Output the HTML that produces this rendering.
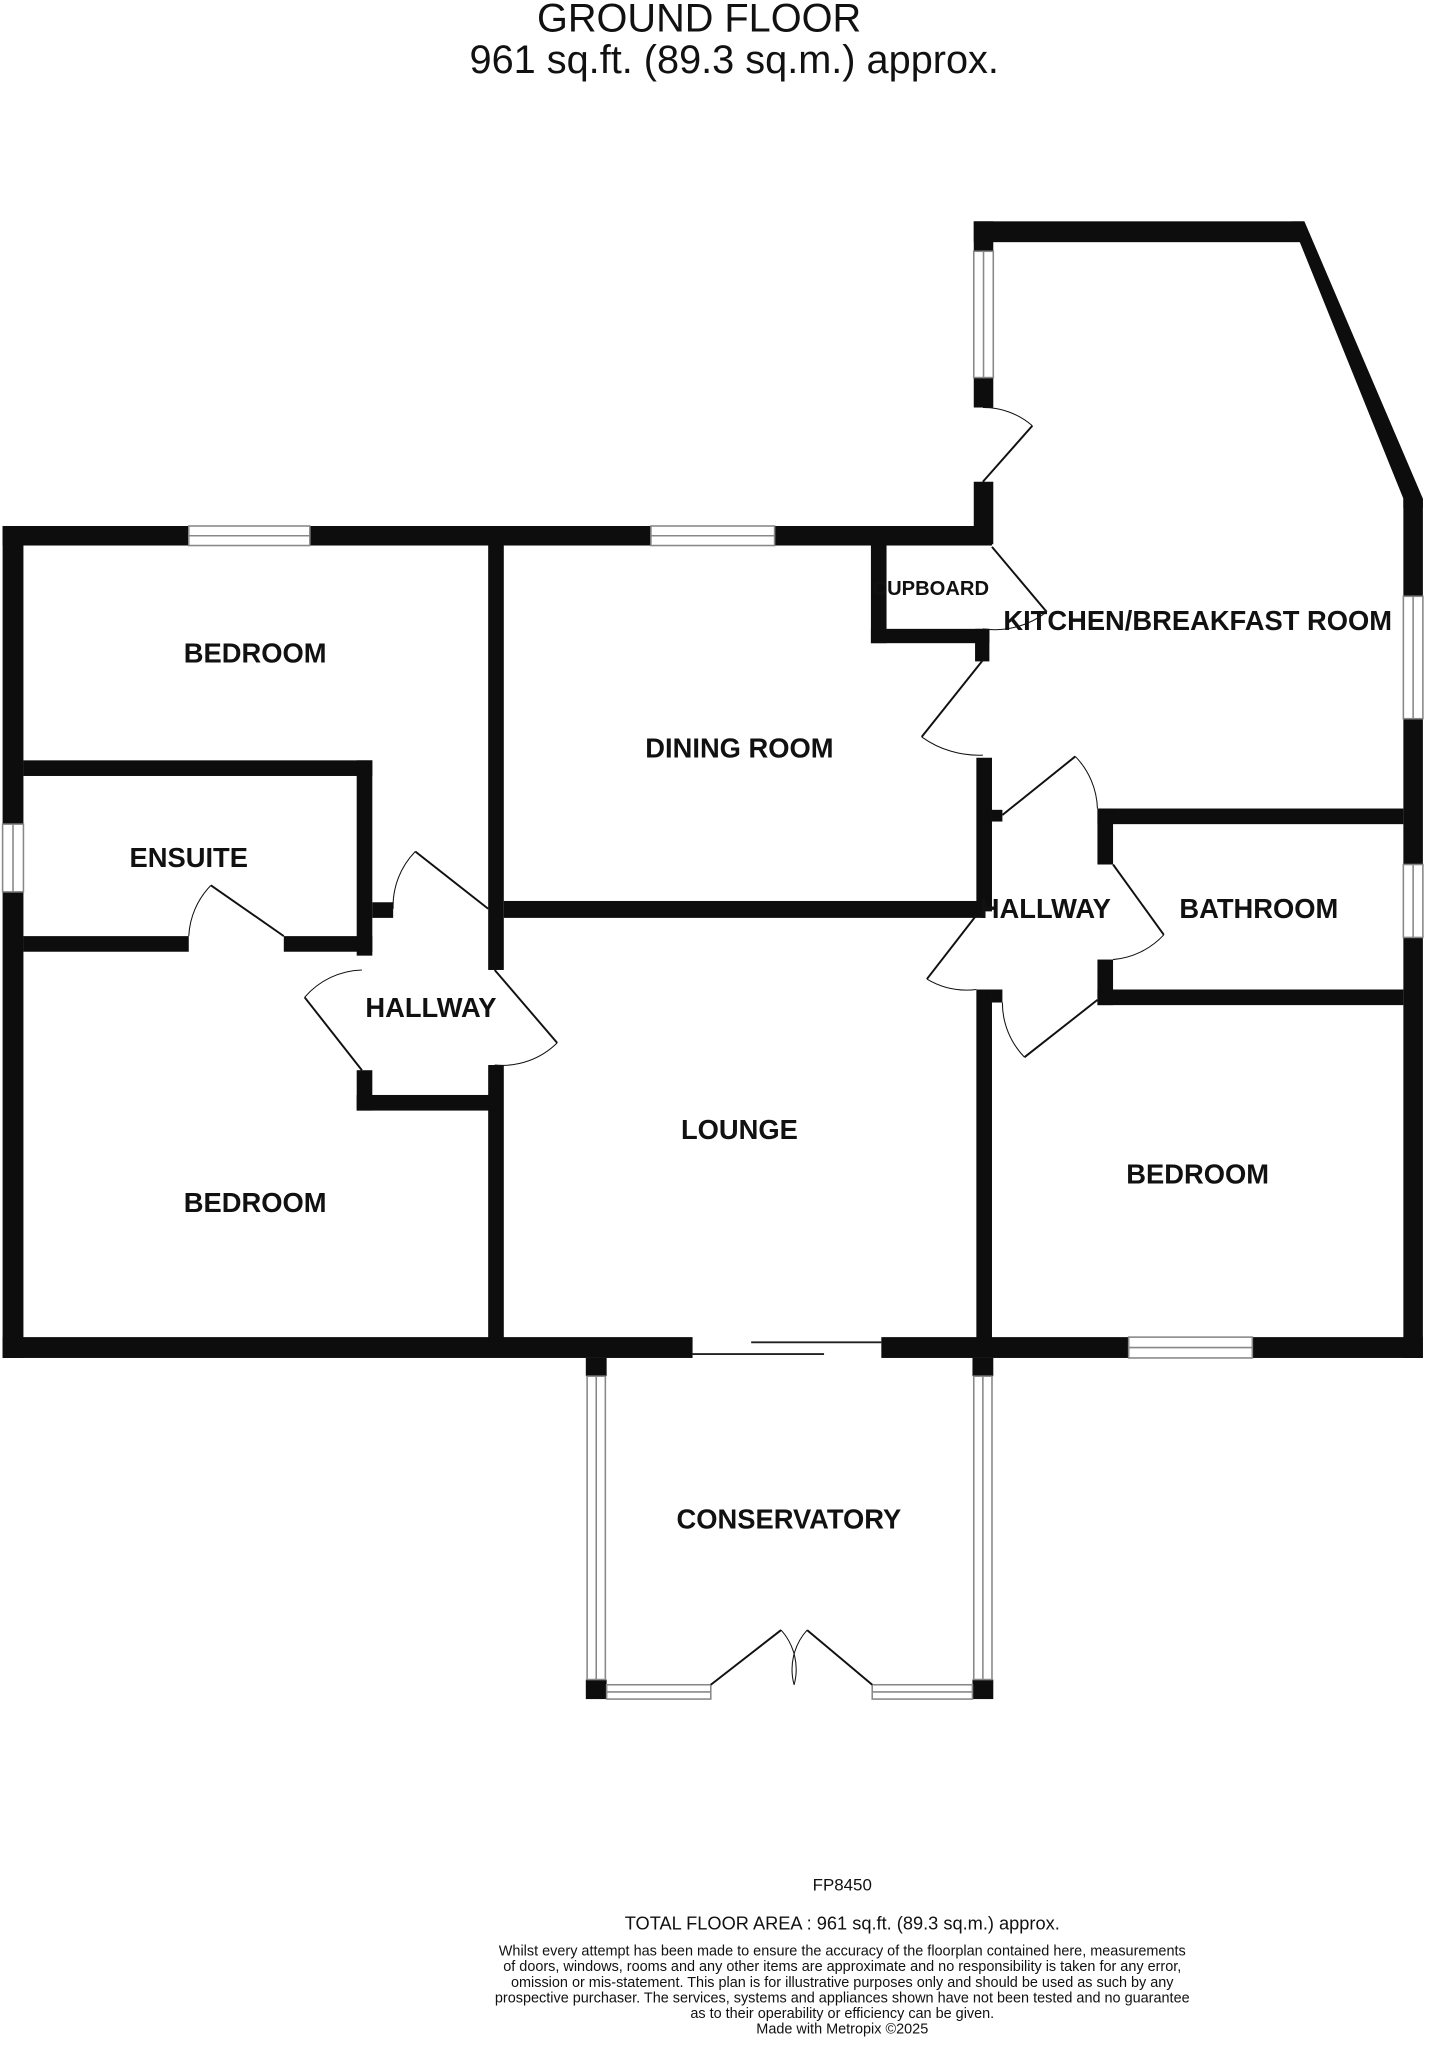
<!DOCTYPE html>
<html><head><style>html,body{margin:0;padding:0;background:#fff}svg{display:block}</style></head><body>
<svg width="1432" height="2048" viewBox="0 0 1100 1573" preserveAspectRatio="none" xmlns="http://www.w3.org/2000/svg" font-family="Liberation Sans, Arial, sans-serif">
<rect width="1100" height="1573" fill="#fff"/>
<text x="537" y="24" font-size="30.5" text-anchor="middle" fill="#111">GROUND FLOOR</text>
<text x="564" y="56" font-size="30.5" text-anchor="middle" fill="#111">961 sq.ft. (89.3 sq.m.) approx.</text>
<g fill="#0d0d0d">
<rect x="2" y="404" width="143" height="15"/><rect x="238" y="404" width="262" height="15"/><rect x="595" y="404" width="167" height="15"/>
<rect x="2" y="404" width="16" height="229"/><rect x="2" y="685" width="16" height="358"/>
<rect x="2" y="1027" width="530" height="16"/><rect x="677" y="1027" width="190" height="16"/><rect x="962" y="1027" width="131" height="16"/>
<rect x="375" y="418" width="12" height="327"/><rect x="375" y="818" width="12" height="212"/>
<rect x="18" y="584" width="268" height="12"/><rect x="274" y="584" width="12" height="150"/>
<rect x="18" y="719" width="127" height="12"/><rect x="218" y="719" width="68" height="12"/>
<rect x="286" y="693" width="16" height="12"/>
<rect x="274" y="822" width="12" height="31"/><rect x="274" y="841" width="106" height="12"/>
<rect x="387" y="692" width="368" height="13"/>
<rect x="748" y="170" width="254" height="16"/>
<polygon points="992,170 1002,170 1093,383 1093,390 1078,390 1078,383"/>
<rect x="1078" y="383" width="15" height="75"/><rect x="1078" y="552" width="15" height="112"/><rect x="1078" y="720" width="15" height="323"/>
<rect x="748" y="170" width="15" height="23"/><rect x="748" y="290" width="15" height="23"/>
<rect x="748" y="370" width="15" height="48"/>
<rect x="669" y="418" width="12" height="76"/><rect x="669" y="483" width="91" height="11"/><rect x="749" y="483" width="11" height="25"/>
<rect x="750" y="582" width="12" height="118"/><rect x="762" y="622" width="8" height="9"/>
<rect x="843" y="621" width="235" height="12"/><rect x="843" y="621" width="12" height="43"/><rect x="843" y="737" width="12" height="35"/>
<rect x="843" y="760" width="235" height="12"/>
<rect x="750" y="760" width="12" height="270"/><rect x="762" y="760" width="8" height="10"/>
<rect x="450" y="1043" width="16" height="14"/><rect x="747" y="1043" width="16" height="14"/>
<rect x="450" y="1290" width="16" height="15"/><rect x="747" y="1290" width="16" height="15"/>
</g>
<g fill="#fff" stroke="#888" stroke-width="1.2">
<rect x="145" y="404" width="93" height="15"/><line x1="145" y1="411.5" x2="238" y2="411.5"/>
<rect x="500" y="404" width="95" height="15"/><line x1="500" y1="411.5" x2="595" y2="411.5"/>
<rect x="2" y="633" width="16" height="52"/><line x1="10" y1="633" x2="10" y2="685"/>
<rect x="748" y="193" width="15" height="97"/><line x1="755.5" y1="193" x2="755.5" y2="290"/>
<rect x="1078" y="458" width="15" height="94"/><line x1="1085.5" y1="458" x2="1085.5" y2="552"/>
<rect x="1078" y="664" width="15" height="56"/><line x1="1085.5" y1="664" x2="1085.5" y2="720"/>
<rect x="867" y="1027" width="95" height="16"/><line x1="867" y1="1035" x2="962" y2="1035"/>
<rect x="451" y="1057" width="14" height="233"/><line x1="458" y1="1057" x2="458" y2="1290"/>
<rect x="748" y="1057" width="14" height="233"/><line x1="755" y1="1057" x2="755" y2="1290"/>
<rect x="466" y="1294" width="80" height="11"/><line x1="466" y1="1299.5" x2="546" y2="1299.5"/>
<rect x="670" y="1294" width="77" height="11"/><line x1="670" y1="1299.5" x2="747" y2="1299.5"/>
</g>
<g stroke="#222" stroke-width="1.5"><line x1="532" y1="1040" x2="633" y2="1040"/><line x1="577" y1="1031" x2="677" y2="1031"/></g>
<g fill="none" stroke="#111" stroke-width="1.5">
<path d="M755 370 L793 327"/><path d="M755 313 A57 57 0 0 1 793 327" stroke-width="0.8"/>
<path d="M762 420 L804 470"/><path d="M804 470 A65 65 0 0 1 755 483" stroke-width="0.8"/>
<path d="M755 507 L708 566"/><path d="M708 566 A75 75 0 0 0 755 580" stroke-width="0.8"/>
<path d="M770 626 L826 581"/><path d="M826 581 A60 60 0 0 1 843 621" stroke-width="0.8"/>
<path d="M855 664 L894 718"/><path d="M894 718 A60 60 0 0 1 855 737" stroke-width="0.8"/>
<path d="M750 703 L712 752"/><path d="M712 752 A60 60 0 0 0 750 760" stroke-width="0.8"/>
<path d="M787 812 L843 768"/><path d="M770 770 A60 60 0 0 0 787 812" stroke-width="0.8"/>
<path d="M218 719 L162 680"/><path d="M162 680 A60 60 0 0 0 145 719" stroke-width="0.8"/>
<path d="M375 698 L319 654"/><path d="M319 654 A60 60 0 0 0 302 698" stroke-width="0.8"/>
<path d="M278 822 L234 766"/><path d="M234 766 A60 60 0 0 1 278 745" stroke-width="0.8"/>
<path d="M380 745 L428 801"/><path d="M428 801 A60 60 0 0 1 380 818" stroke-width="0.8"/>
<path d="M546 1294 L600 1252"/><path d="M600 1252 A45 45 0 0 1 610 1294" stroke-width="0.8"/>
<path d="M670 1294 L620 1252"/><path d="M620 1252 A45 45 0 0 0 610 1294" stroke-width="0.8"/>
</g>
<g font-weight="bold" font-size="21" fill="#111" text-anchor="middle">
<text x="196" y="509">BEDROOM</text>
<text x="568" y="582">DINING ROOM</text>
<text x="145" y="666">ENSUITE</text>
<text x="331" y="781">HALLWAY</text>
<text x="568" y="875">LOUNGE</text>
<text x="196" y="931">BEDROOM</text>
<text x="920" y="484">KITCHEN/BREAKFAST ROOM</text>
<text x="715" y="457" font-size="15.5">CUPBOARD</text>
<text x="803" y="705">HALLWAY</text>
<text x="967" y="705">BATHROOM</text>
<text x="920" y="909">BEDROOM</text>
<text x="606" y="1174">CONSERVATORY</text>
</g>
<g fill="#111" text-anchor="middle">
<text x="647" y="1452" font-size="13">FP8450</text>
<text x="647" y="1482" font-size="14">TOTAL FLOOR AREA : 961 sq.ft. (89.3 sq.m.) approx.</text>
<text x="647" y="1502" font-size="11.1">Whilst every attempt has been made to ensure the accuracy of the floorplan contained here, measurements</text>
<text x="647" y="1514" font-size="11.1">of doors, windows, rooms and any other items are approximate and no responsibility is taken for any error,</text>
<text x="647" y="1526" font-size="11.1">omission or mis-statement. This plan is for illustrative purposes only and should be used as such by any</text>
<text x="647" y="1538" font-size="11.1">prospective purchaser. The services, systems and appliances shown have not been tested and no guarantee</text>
<text x="647" y="1550" font-size="11.1">as to their operability or efficiency can be given.</text>
<text x="647" y="1562" font-size="11.1">Made with Metropix ©2025</text>
</g>
</svg>
</body></html>
